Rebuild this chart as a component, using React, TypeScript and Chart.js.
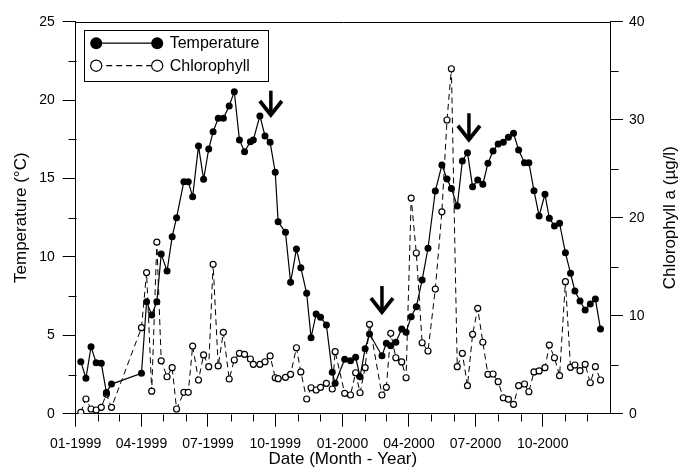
import React, { useEffect, useRef } from 'react';
import { Chart, registerables } from 'chart.js';

Chart.register(...registerables);

// ---- data ----
const sampleDates = [
  '1999-01-08', '1999-01-15', '1999-01-22', '1999-01-29', '1999-02-05', '1999-02-12', '1999-02-19',
  '1999-04-01', '1999-04-08', '1999-04-15', '1999-04-22', '1999-04-28', '1999-05-06', '1999-05-13',
  '1999-05-19', '1999-05-29', '1999-06-04', '1999-06-10', '1999-06-18', '1999-06-25', '1999-07-02',
  '1999-07-08', '1999-07-15', '1999-07-22', '1999-07-30', '1999-08-06', '1999-08-13', '1999-08-20',
  '1999-08-28', '1999-09-01', '1999-09-10', '1999-09-17', '1999-09-24', '1999-10-01', '1999-10-05',
  '1999-10-15', '1999-10-22', '1999-10-30', '1999-11-05', '1999-11-13', '1999-11-19', '1999-11-26',
  '1999-12-02', '1999-12-10', '1999-12-18', '1999-12-22', '2000-01-04', '2000-01-12', '2000-01-19',
  '2000-01-25', '2000-02-01', '2000-02-07', '2000-02-24', '2000-03-01', '2000-03-07', '2000-03-14',
  '2000-03-22', '2000-03-28', '2000-04-04', '2000-04-11', '2000-04-19', '2000-04-27', '2000-05-07',
  '2000-05-16', '2000-05-23', '2000-05-29', '2000-06-06', '2000-06-13', '2000-06-20', '2000-06-27',
  '2000-07-04', '2000-07-11', '2000-07-18', '2000-07-25', '2000-08-01', '2000-08-08', '2000-08-15',
  '2000-08-22', '2000-08-29', '2000-09-06', '2000-09-12', '2000-09-19', '2000-09-26', '2000-10-04',
  '2000-10-10', '2000-10-17', '2000-10-24', '2000-11-01', '2000-11-08', '2000-11-14', '2000-11-21',
  '2000-11-28', '2000-12-05', '2000-12-12', '2000-12-19',
];

const temperature = [
  3.32, 2.26, 4.27, 3.25, 3.21, 1.36, 1.89,
  2.58, 7.14, 6.29, 7.14, 10.18, 9.1, 11.29,
  12.5, 14.8, 14.8, 13.84, 17.07, 14.95, 16.88,
  17.98, 18.84, 18.84, 19.62, 20.54, 17.46, 16.71,
  17.35, 17.46, 18.99, 17.71, 17.31, 15.4, 12.24,
  11.57, 8.38, 10.5, 9.31, 7.68, 4.85, 6.36,
  6.15, 5.66, 2.64, 1.94, 3.47, 3.38, 3.6,
  2.36, 4.15, 5.08, 3.7, 4.49, 4.34, 4.55,
  5.4, 5.19, 6.19, 6.82, 8.53, 10.55, 14.2,
  15.86, 14.97, 14.37, 13.25, 16.12, 16.65, 14.48,
  14.9, 14.63, 15.97, 16.75, 17.2, 17.31, 17.63,
  17.88, 16.82, 16.01, 16.01, 14.22, 12.61, 13.99,
  12.46, 11.97, 12.14, 10.27, 8.95, 7.83, 7.19,
  6.61, 7.0, 7.31, 5.4,
];

const chlorophyll = [
  0.14, 1.5, 0.48, 0.38, 0.65, 2.0, 0.65,
  8.78, 14.4, 2.3, 17.5, 5.4, 3.77, 4.7,
  0.48, 2.18, 2.18, 6.9, 3.44, 6.0, 4.8,
  15.24, 4.87, 8.3, 3.54, 5.48, 6.16, 6.06,
  5.58, 5.04, 5.04, 5.3, 5.9, 3.67, 3.57,
  3.71, 4.02, 6.73, 4.26, 1.5, 2.65, 2.42,
  2.69, 3.1, 2.52, 6.33, 2.08, 1.91, 4.18,
  2.14, 4.7, 9.12, 1.91, 2.69, 8.2, 5.71,
  5.28, 3.67, 22.0, 16.4, 7.24, 6.4, 12.72,
  20.6, 29.97, 35.2, 4.8, 6.16, 2.86, 8.1,
  10.75, 7.29, 4.02, 4.05, 3.27, 1.63, 1.47,
  0.96, 2.86, 3.03, 2.24, 4.26, 4.36, 4.7,
  7.0, 5.71, 3.88, 13.47, 4.73, 4.97, 4.39,
  5.04, 3.16, 4.8, 3.44,
];

// arrows (date, top and tip in temperature units)
const arrowDates = ['1999-09-25', '2000-02-24', '2000-06-22'];
const arrowTop = [20.6, 8.14, 19.16];
const arrowTip = [18.86, 6.29, 17.28];

// axis ticks
const monthTicks = [
  '1999-01', '1999-02', '1999-03', '1999-04', '1999-05', '1999-06', '1999-07', '1999-08',
  '1999-09', '1999-10', '1999-11', '1999-12', '2000-01', '2000-02', '2000-03', '2000-04',
  '2000-05', '2000-06', '2000-07', '2000-08', '2000-09', '2000-10', '2000-11', '2000-12',
];
const tempTicks = [0, 2.5, 5, 7.5, 10, 12.5, 15, 17.5, 20, 22.5, 25];
const tempMajor = [0, 5, 10, 15, 20, 25];
const chlTicks = [0, 5, 10, 15, 20, 25, 30, 35, 40];
const chlMajor = [0, 10, 20, 30, 40];

const X_START = '1999-01-01';
const X_END = '2001-01-01';

// ---- helpers ----
const ORIGIN = Date.UTC(1999, 0, 1);
function toDay(s: string): number {
  const p = s.split('-').map(Number);
  return (Date.UTC(p[0], p[1] - 1, p[2] || 1) - ORIGIN) / 86400000;
}
const monthDays = monthTicks.map((m) => toDay(m));
function monthInfo(v: number) {
  const i = monthDays.findIndex((d) => Math.abs(d - v) < 0.01);
  if (i < 0) return { major: false, label: '' };
  const [y, m] = monthTicks[i].split('-');
  const major = (Number(m) - 1) % 3 === 0;
  return { major, label: major ? `${m}-${y}` : '' };
}
const isMajorIn = (arr: number[], v: number) => arr.some((a) => Math.abs(a - v) < 1e-6);

const FONT = "'Liberation Sans', Arial, sans-serif";
const BLACK = '#000';

const decorPlugin = {
  id: 'decor',
  afterDatasetsDraw(chart: any) {
    const { ctx, scales } = chart;
    const x = scales.x;
    const y = scales.y;
    ctx.save();
    ctx.strokeStyle = BLACK;
    for (let i = 0; i < arrowDates.length; i++) {
      const px = x.getPixelForValue(toDay(arrowDates[i]));
      const pTop = y.getPixelForValue(arrowTop[i]);
      const pTip = y.getPixelForValue(arrowTip[i]);
      ctx.lineWidth = 3.5;
      ctx.lineCap = 'butt';
      ctx.beginPath();
      ctx.moveTo(px, pTop);
      ctx.lineTo(px, pTip - 3);
      ctx.stroke();
      ctx.lineWidth = 3.8;
      ctx.lineJoin = 'miter';
      ctx.beginPath();
      ctx.moveTo(px - 11, pTip - 17);
      ctx.lineTo(px, pTip - 3);
      ctx.lineTo(px + 11, pTip - 17);
      ctx.stroke();
    }
    ctx.restore();
  },
  afterDraw(chart: any) {
    const { ctx, chartArea, scales } = chart;
    const { left, right, top, bottom } = chartArea;
    ctx.save();
    ctx.strokeStyle = BLACK;
    ctx.lineWidth = 1;
    // top frame line
    const ty = Math.round(top) + 0.5;
    ctx.beginPath();
    ctx.moveTo(Math.round(left), ty);
    ctx.lineTo(Math.round(right) + 1, ty);
    ctx.stroke();

    // minor ticks
    const xs = scales.x;
    const xb = Math.round(bottom) + 0.5;
    xs.ticks.forEach((t: any) => {
      if (monthInfo(t.value).major) return;
      const px = Math.round(xs.getPixelForValue(t.value)) + 0.5;
      ctx.beginPath();
      ctx.moveTo(px, xb);
      ctx.lineTo(px, xb + 7);
      ctx.stroke();
    });
    const ys = scales.y;
    const yl = Math.round(left) + 0.5;
    ys.ticks.forEach((t: any) => {
      if (isMajorIn(tempMajor, t.value)) return;
      const py = Math.round(ys.getPixelForValue(t.value)) + 0.5;
      ctx.beginPath();
      ctx.moveTo(yl, py);
      ctx.lineTo(yl - 8, py);
      ctx.stroke();
    });
    const y2 = scales.y2;
    const yr = Math.round(right) + 0.5;
    y2.ticks.forEach((t: any) => {
      if (isMajorIn(chlMajor, t.value)) return;
      const py = Math.round(y2.getPixelForValue(t.value)) + 0.5;
      ctx.beginPath();
      ctx.moveTo(yr, py);
      ctx.lineTo(yr + 8, py);
      ctx.stroke();
    });

    // legend
    const lx = left + 8;
    const ly = top + 8;
    const lw = 184;
    const lh = 51;
    ctx.fillStyle = '#fff';
    ctx.fillRect(lx, ly, lw, lh);
    ctx.strokeRect(Math.round(lx) + 0.5, Math.round(ly) + 0.5, lw, lh);
    const rows = [
      { y: ly + 13.5, text: 'Temperature', filled: true },
      { y: ly + 36, text: 'Chlorophyll', filled: false },
    ];
    const m1 = lx + 12.5;
    const m2 = lx + 73.5;
    rows.forEach((r) => {
      ctx.lineWidth = 1.2;
      ctx.setLineDash(r.filled ? [] : [6, 4]);
      ctx.beginPath();
      ctx.moveTo(m1, r.y);
      ctx.lineTo(m2, r.y);
      ctx.stroke();
      ctx.setLineDash([]);
      [m1, m2].forEach((mx) => {
        ctx.beginPath();
        ctx.arc(mx, r.y, r.filled ? 6 : 5.6, 0, Math.PI * 2);
        if (r.filled) {
          ctx.fillStyle = BLACK;
          ctx.fill();
        } else {
          ctx.fillStyle = '#fff';
          ctx.fill();
          ctx.lineWidth = 1.2;
          ctx.stroke();
        }
      });
      ctx.fillStyle = BLACK;
      ctx.font = `16px ${FONT}`;
      ctx.textAlign = 'left';
      ctx.textBaseline = 'middle';
      ctx.fillText(r.text, lx + 86, r.y + 0.5);
    });

    // right axis title (reads bottom-to-top)
    ctx.translate(670, (top + bottom) / 2);
    ctx.rotate(-Math.PI / 2);
    ctx.font = `17px ${FONT}`;
    ctx.fillStyle = BLACK;
    ctx.textAlign = 'center';
    ctx.textBaseline = 'middle';
    ctx.fillText('Chlorophyll a (µg/l)', 0, 0);
    ctx.restore();
  },
};

export default function App() {
  const ref = useRef<HTMLCanvasElement | null>(null);

  useEffect(() => {
    document.body.style.margin = '0';
    const canvas = ref.current;
    if (!canvas) return;
    Chart.defaults.font.family = FONT;
    Chart.defaults.color = BLACK;

    const tempData = sampleDates.map((d, i) => ({ x: toDay(d), y: temperature[i] }));
    const chlData = sampleDates.map((d, i) => ({ x: toDay(d), y: chlorophyll[i] }));

    const chart = new Chart(canvas, {
      type: 'line',
      data: {
        datasets: [
          {
            label: 'Temperature',
            data: tempData,
            yAxisID: 'y',
            borderColor: BLACK,
            borderWidth: 1.2,
            pointRadius: 3.5,
            pointBackgroundColor: BLACK,
            pointBorderColor: BLACK,
            pointBorderWidth: 0,
            tension: 0,
            fill: false,
          },
          {
            label: 'Chlorophyll',
            data: chlData,
            yAxisID: 'y2',
            borderColor: BLACK,
            borderWidth: 1,
            borderDash: [6, 4],
            pointRadius: 3,
            pointBackgroundColor: '#fff',
            pointBorderColor: BLACK,
            pointBorderWidth: 1.2,
            tension: 0,
            fill: false,
          },
        ],
      },
      options: {
        responsive: false,
        animation: false,
        devicePixelRatio: 1,
        layout: { padding: { top: 21.7, left: 0, right: 0, bottom: 0 } },
        plugins: {
          legend: { display: false },
          tooltip: { enabled: false },
        },
        scales: {
          x: {
            type: 'linear',
            min: toDay(X_START),
            max: toDay(X_END),
            afterBuildTicks: (s: any) => {
              s.ticks = monthDays.map((v) => ({ value: v }));
            },
            afterFit: (s: any) => {
              s.height = 54.3;
            },
            ticks: {
              autoSkip: false,
              maxRotation: 0,
              minRotation: 0,
              padding: 9,
              color: BLACK,
              font: { size: 14, family: FONT },
              callback: (v: any) => monthInfo(Number(v)).label,
            },
            grid: {
              drawOnChartArea: false,
              drawTicks: true,
              tickLength: 13,
              tickWidth: 1,
              tickColor: (c: any) => (c.tick && monthInfo(c.tick.value).major ? BLACK : 'rgba(0,0,0,0)'),
            },
            border: { display: true, color: BLACK, width: 1 },
            title: {
              display: true,
              text: 'Date (Month - Year)',
              color: BLACK,
              font: { size: 17, family: FONT, lineHeight: 1 },
              padding: { top: 0, bottom: 0 },
            },
          },
          y: {
            type: 'linear',
            position: 'left',
            min: 0,
            max: 25,
            afterBuildTicks: (s: any) => {
              s.ticks = tempTicks.map((v) => ({ value: v }));
            },
            afterFit: (s: any) => {
              s.width = 75.7;
            },
            ticks: {
              padding: 8,
              color: BLACK,
              font: { size: 14, family: FONT },
              callback: (v: any) => (isMajorIn(tempMajor, Number(v)) ? String(v) : ''),
            },
            grid: {
              drawOnChartArea: false,
              drawTicks: true,
              tickLength: 13,
              tickWidth: 1,
              tickColor: (c: any) => (c.tick && isMajorIn(tempMajor, c.tick.value) ? BLACK : 'rgba(0,0,0,0)'),
            },
            border: { display: true, color: BLACK, width: 1 },
            title: {
              display: true,
              text: 'Temperature (°C)',
              color: BLACK,
              font: { size: 17, family: FONT, lineHeight: 1 },
              padding: { top: 12.5, bottom: 0 },
            },
          },
          y2: {
            type: 'linear',
            position: 'right',
            min: 0,
            max: 40,
            afterBuildTicks: (s: any) => {
              s.ticks = chlTicks.map((v) => ({ value: v }));
            },
            afterFit: (s: any) => {
              s.width = 68;
            },
            ticks: {
              padding: 6,
              color: BLACK,
              font: { size: 14, family: FONT },
              callback: (v: any) => (isMajorIn(chlMajor, Number(v)) ? String(v) : ''),
            },
            grid: {
              drawOnChartArea: false,
              drawTicks: true,
              tickLength: 13,
              tickWidth: 1,
              tickColor: (c: any) => (c.tick && isMajorIn(chlMajor, c.tick.value) ? BLACK : 'rgba(0,0,0,0)'),
            },
            border: { display: true, color: BLACK, width: 1 },
            title: { display: false },
          },
        },
      },
      plugins: [decorPlugin],
    } as any);

    return () => {
      chart.destroy();
    };
  }, []);

  return (
    <div style={{ width: 678, height: 468, background: '#fff' }}>
      <canvas ref={ref} width={678} height={468} style={{ display: 'block' }} />
    </div>
  );
}
